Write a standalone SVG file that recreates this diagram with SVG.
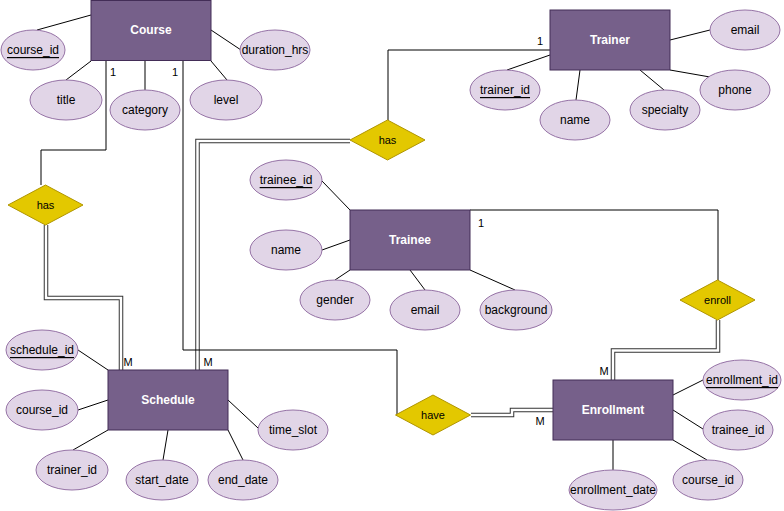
<svg xmlns="http://www.w3.org/2000/svg" width="784" height="511" viewBox="0 0 784 511">
<defs>
<style>
.ent{fill:#76608A;stroke:#432D57;stroke-width:1}
.att{fill:#E1D5E7;stroke:#9673A6;stroke-width:1}
.rel{fill:#E3C800;stroke:#B09500;stroke-width:1}
.et{font-family:"Liberation Sans",Arial,sans-serif;font-size:12px;font-weight:bold;fill:#FFFFFF;text-anchor:middle;dominant-baseline:central}
.at{font-family:"Liberation Sans",Arial,sans-serif;font-size:12px;fill:#000000;text-anchor:middle;dominant-baseline:central}
.rt{font-family:"Liberation Sans",Arial,sans-serif;font-size:11px;fill:#000000;text-anchor:middle;dominant-baseline:central}
.lb{font-family:"Liberation Sans",Arial,sans-serif;font-size:11px;fill:#000000;text-anchor:middle;dominant-baseline:central}
.u{text-decoration:underline}
.ln{fill:none;stroke:#000000;stroke-width:1}
.dbo{fill:none;stroke:#333333;stroke-width:4.5}
.dbi{fill:none;stroke:#FFFFFF;stroke-width:2.5}
</style>
</defs>
<rect x="0" y="0" width="784" height="511" fill="#FFFFFF"/>
<g id="connectors">
<line class="ln" x1="91" y1="15" x2="37" y2="30"/>
<line class="ln" x1="91" y1="61" x2="66" y2="80"/>
<line class="ln" x1="145" y1="61" x2="145" y2="90"/>
<line class="ln" x1="211" y1="61" x2="227" y2="80"/>
<line class="ln" x1="211" y1="30" x2="241" y2="50"/>
<line class="ln" x1="670" y1="40" x2="710" y2="30"/>
<line class="ln" x1="550" y1="55" x2="507" y2="70"/>
<line class="ln" x1="580" y1="70" x2="576" y2="100"/>
<line class="ln" x1="640" y1="70" x2="664" y2="90"/>
<line class="ln" x1="670" y1="70" x2="710" y2="77"/>
<line class="ln" x1="322" y1="181" x2="350" y2="210"/>
<line class="ln" x1="322" y1="250" x2="350" y2="240"/>
<line class="ln" x1="350" y1="270" x2="335" y2="280"/>
<line class="ln" x1="410" y1="270" x2="425" y2="290"/>
<line class="ln" x1="470" y1="270" x2="515" y2="290"/>
<line class="ln" x1="78" y1="350" x2="108" y2="370"/>
<line class="ln" x1="78" y1="410" x2="108" y2="400"/>
<line class="ln" x1="108" y1="430" x2="73" y2="450"/>
<line class="ln" x1="168" y1="430" x2="163" y2="460"/>
<line class="ln" x1="228" y1="430" x2="243" y2="460"/>
<line class="ln" x1="228" y1="400" x2="258" y2="428"/>
<line class="ln" x1="673" y1="395" x2="703" y2="380"/>
<line class="ln" x1="673" y1="410" x2="703" y2="429"/>
<line class="ln" x1="673" y1="440" x2="707" y2="460"/>
<line class="ln" x1="613" y1="440" x2="613" y2="470" style="stroke:#555555;stroke-width:1.5"/>
<path class="ln" d="M106,61 V150 H41 V185"/>
<path class="dbo" d="M46,225 V298 H121 V370"/>
<path class="dbi" d="M46,225 V298 H121 V370"/>
<path class="ln" d="M550,50 H388 V120"/>
<path class="dbo" d="M350,141 H197.5 V370"/>
<path class="dbi" d="M350,141 H197.5 V370"/>
<path class="ln" d="M183,61 V350 H397 V415"/>
<path class="dbo" d="M471,415 H512 V410 H553"/>
<path class="dbi" d="M471,415 H512 V410 H553"/>
<path class="ln" d="M470,210 H718 V280"/>
<path class="dbo" d="M718,320 V350.5 H613 V380"/>
<path class="dbi" d="M718,320 V350.5 H613 V380"/>
<text class="lb" x="113" y="72">1</text>
<text class="lb" x="175" y="72">1</text>
<text class="lb" x="540" y="41">1</text>
<text class="lb" x="481" y="223">1</text>
<text class="lb" x="128" y="362">M</text>
<text class="lb" x="208" y="362">M</text>
<text class="lb" x="540" y="421">M</text>
<text class="lb" x="604" y="371">M</text>
</g>
<g id="course">
<rect class="ent" x="91" y="0.5" width="120" height="60"/>
<text class="et" x="151" y="30">Course</text>
</g>
<g id="course_course_id"><ellipse class="att" cx="33" cy="50" rx="32" ry="20"/><text class="at u" x="33" y="50">course_id</text></g>
<g id="course_title"><ellipse class="att" cx="66" cy="100" rx="36" ry="20"/><text class="at" x="66" y="100">title</text></g>
<g id="course_category"><ellipse class="att" cx="145" cy="110" rx="35" ry="20"/><text class="at" x="145" y="110">category</text></g>
<g id="course_level"><ellipse class="att" cx="226" cy="100" rx="36" ry="20"/><text class="at" x="226" y="100">level</text></g>
<g id="course_duration"><ellipse class="att" cx="275" cy="50" rx="35" ry="20"/><text class="at" x="275" y="50">duration_hrs</text></g>

<g id="trainer">
<rect class="ent" x="550" y="10" width="120" height="60"/>
<text class="et" x="610" y="40">Trainer</text>
</g>
<g id="trainer_email"><ellipse class="att" cx="745" cy="30" rx="35" ry="20"/><text class="at" x="745" y="30">email</text></g>
<g id="trainer_id"><ellipse class="att" cx="505" cy="90" rx="35" ry="20"/><text class="at u" x="505" y="90">trainer_id</text></g>
<g id="trainer_name"><ellipse class="att" cx="575" cy="120" rx="35" ry="20"/><text class="at" x="575" y="120">name</text></g>
<g id="trainer_specialty"><ellipse class="att" cx="665" cy="110" rx="35" ry="20"/><text class="at" x="665" y="110">specialty</text></g>
<g id="trainer_phone"><ellipse class="att" cx="735" cy="90" rx="35" ry="20"/><text class="at" x="735" y="90">phone</text></g>

<g id="trainee">
<rect class="ent" x="350" y="210" width="120" height="60"/>
<text class="et" x="410" y="240">Trainee</text>
</g>
<g id="trainee_id"><ellipse class="att" cx="286" cy="180" rx="36" ry="20"/><text class="at u" x="286" y="180">trainee_id</text></g>
<g id="trainee_name"><ellipse class="att" cx="286" cy="250" rx="36" ry="20"/><text class="at" x="286" y="250">name</text></g>
<g id="trainee_gender"><ellipse class="att" cx="335" cy="300" rx="35" ry="20"/><text class="at" x="335" y="300">gender</text></g>
<g id="trainee_email"><ellipse class="att" cx="425" cy="310" rx="35" ry="20"/><text class="at" x="425" y="310">email</text></g>
<g id="trainee_background"><ellipse class="att" cx="516" cy="310" rx="36" ry="20"/><text class="at" x="516" y="310">background</text></g>

<g id="schedule">
<rect class="ent" x="108" y="370" width="120" height="60"/>
<text class="et" x="168" y="400">Schedule</text>
</g>
<g id="schedule_id"><ellipse class="att" cx="42" cy="350" rx="36" ry="20"/><text class="at u" x="42" y="350">schedule_id</text></g>
<g id="schedule_course_id"><ellipse class="att" cx="42" cy="410" rx="36" ry="20"/><text class="at" x="42" y="410">course_id</text></g>
<g id="schedule_trainer_id"><ellipse class="att" cx="72" cy="470" rx="36" ry="20"/><text class="at" x="72" y="470">trainer_id</text></g>
<g id="schedule_start_date"><ellipse class="att" cx="162" cy="480" rx="36" ry="20"/><text class="at" x="162" y="480">start_date</text></g>
<g id="schedule_end_date"><ellipse class="att" cx="243" cy="480" rx="35" ry="20"/><text class="at" x="243" y="480">end_date</text></g>
<g id="schedule_time_slot"><ellipse class="att" cx="293" cy="430" rx="35" ry="20"/><text class="at" x="293" y="430">time_slot</text></g>

<g id="enrollment">
<rect class="ent" x="553" y="380" width="120" height="60"/>
<text class="et" x="613" y="410">Enrollment</text>
</g>
<g id="enrollment_id"><ellipse class="att" cx="742" cy="380" rx="39" ry="20"/><text class="at u" x="742" y="380">enrollment_id</text></g>
<g id="enrollment_trainee_id"><ellipse class="att" cx="738" cy="430" rx="35" ry="20"/><text class="at" x="738" y="430">trainee_id</text></g>
<g id="enrollment_course_id"><ellipse class="att" cx="708" cy="480" rx="35" ry="20"/><text class="at" x="708" y="480">course_id</text></g>
<g id="enrollment_date"><ellipse class="att" cx="613" cy="490" rx="44" ry="20"/><text class="at" x="613" y="490">enrollment_date</text></g>

<g id="rel_has_course"><polygon class="rel" points="45.5,185 83,205 45.5,225 8,205"/><text class="rt" x="45.5" y="205">has</text></g>
<g id="rel_has_trainer"><polygon class="rel" points="387.5,120 425,140 387.5,160 350,140"/><text class="rt" x="387.5" y="140">has</text></g>
<g id="rel_enroll"><polygon class="rel" points="717.5,280 755,300 717.5,320 680,300"/><text class="rt" x="717.5" y="300">enroll</text></g>
<g id="rel_have"><polygon class="rel" points="433,395 470.5,415 433,435 395.5,415"/><text class="rt" x="433" y="415">have</text></g>
</svg>
